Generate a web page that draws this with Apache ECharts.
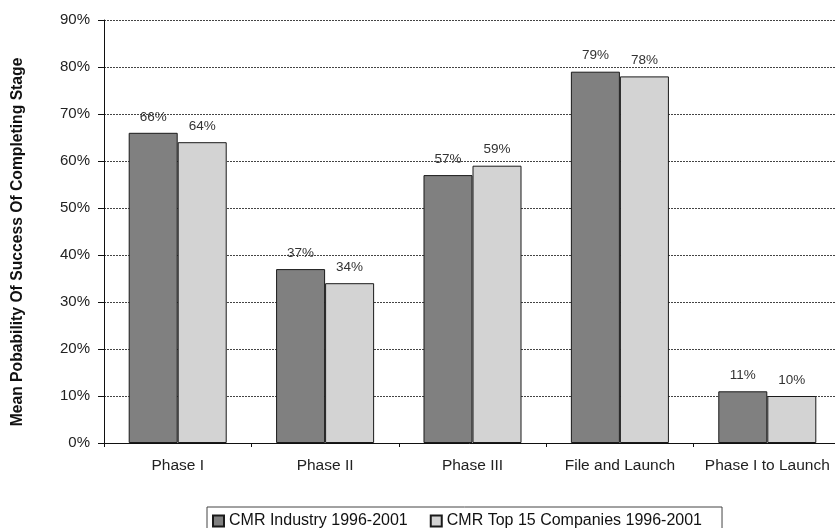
<!DOCTYPE html>
<html><head><meta charset="utf-8">
<script src="https://cdn.jsdelivr.net/npm/echarts@6/dist/echarts.min.js"></script>
<style>html,body{margin:0;padding:0;background:#fff}#c{width:835px;height:528px}</style>
</head><body><div id="c"></div>
<script>
const categories = ['Phase I', 'Phase II', 'Phase III', 'File and Launch', 'Phase I to Launch'];
const industry = [66, 37, 57, 79, 11];
const top15 = [64, 34, 59, 78, 10];
const seriesNames = ['CMR Industry 1996-2001', 'CMR Top 15 Companies 1996-2001'];
const yTicks = [0, 10, 20, 30, 40, 50, 60, 70, 80, 90];
const yTitle = 'Mean Pobability Of Success Of Completing Stage';

const font = 'Liberation Sans, Arial, sans-serif';
const chart = echarts.init(document.getElementById('c'));
const lbl = {show: true, position: 'top', distance: 9, formatter: p => p.value + '%', color: '#333', fontSize: 13.5, fontFamily: font};
chart.setOption({
  animation: false,
  backgroundColor: '#fff',
  grid: {left: 104, top: 20, width: 737, height: 423, outerBoundsMode: 'none', containLabel: false},
  graphic: [{
    type: 'text', x: 18, y: 242, rotation: Math.PI / 2,
    style: {text: yTitle, fill: '#111', font: 'bold 15.7px ' + font, align: 'center', verticalAlign: 'middle'}
  }],
  legend: {
    left: 207, top: 507,
    itemWidth: 11, itemHeight: 11, itemGap: 22,
    borderColor: '#444', borderWidth: 1, padding: [6, 20, 6, 5],
    textStyle: {fontSize: 16, color: '#111', fontFamily: font},
    data: seriesNames.map(n => ({name: n, icon: 'rect'}))
  },
  xAxis: {
    type: 'category', data: categories,
    axisLine: {lineStyle: {color: '#111', width: 1}},
    axisTick: {show: true, interval: 0, length: 4, lineStyle: {color: '#111'}},
    axisLabel: {interval: 0, hideOverlap: false, fontSize: 15.5, color: '#222', fontFamily: font, margin: 15}
  },
  yAxis: {
    type: 'value', min: 0, max: 90, interval: 10,
    axisLine: {show: true, lineStyle: {color: '#111', width: 1}},
    axisTick: {show: true, length: 6, lineStyle: {color: '#111'}},
    axisLabel: {fontSize: 15, color: '#222', fontFamily: font, margin: 14,
      formatter: v => yTicks.includes(v) ? v + '%' : ''},
    splitLine: {lineStyle: {color: '#444', type: [2, 1], width: 1}}
  },
  series: [
    {name: seriesNames[0], type: 'bar', data: industry, barGap: '0%', barCategoryGap: '33.5%',
     itemStyle: {color: '#808080', borderColor: '#1a1a1a', borderWidth: 1}, label: lbl},
    {name: seriesNames[1], type: 'bar', data: top15,
     itemStyle: {color: '#d3d3d3', borderColor: '#1a1a1a', borderWidth: 1}, label: lbl}
  ]
});
</script></body></html>
